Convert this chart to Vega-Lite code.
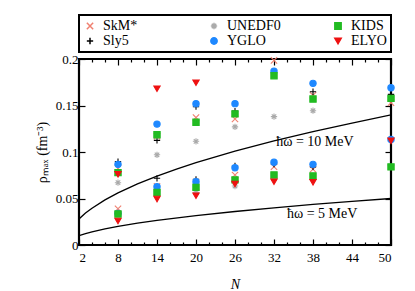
{
  "$schema": "https://vega.github.io/schema/vega-lite/v6.json",
  "width": 312,
  "height": 186,
  "autosize": {"type": "none"},
  "padding": {"left": 79, "top": 59, "right": 24, "bottom": 46},
  "background": "white",
  "config": {
    "font": "Liberation Serif",
    "view": {"stroke": "black", "strokeWidth": 2.2},
    "axis": {"labelFont": "Liberation Serif", "titleFont": "Liberation Serif", "labelFontSize": 13, "titleFontSize": 14, "titleFontWeight": "normal", "labelColor": "black", "titleColor": "black", "grid": false, "domain": false, "tickColor": "black", "tickWidth": 1.2},
    "legend": {"labelFont": "Liberation Serif", "labelFontSize": 14, "labelColor": "black", "titleFont": "Liberation Serif", "strokeWidth": 2}
  },
  "datasets": {
    "pts": [
      {"N": 8, "rho": 0.067, "model": "UNEDF0"},
      {"N": 14, "rho": 0.097, "model": "UNEDF0"},
      {"N": 14, "rho": 0.058, "model": "UNEDF0"},
      {"N": 20, "rho": 0.1115, "model": "UNEDF0"},
      {"N": 20, "rho": 0.0566, "model": "UNEDF0"},
      {"N": 26, "rho": 0.127, "model": "UNEDF0"},
      {"N": 26, "rho": 0.0634, "model": "UNEDF0"},
      {"N": 32, "rho": 0.138, "model": "UNEDF0"},
      {"N": 38, "rho": 0.1444, "model": "UNEDF0"},
      {"N": 8, "rho": 0.0824, "model": "SkM*"},
      {"N": 8, "rho": 0.039, "model": "SkM*"},
      {"N": 14, "rho": 0.117, "model": "SkM*"},
      {"N": 14, "rho": 0.063, "model": "SkM*"},
      {"N": 20, "rho": 0.137, "model": "SkM*"},
      {"N": 20, "rho": 0.063, "model": "SkM*"},
      {"N": 26, "rho": 0.1355, "model": "SkM*"},
      {"N": 26, "rho": 0.0753, "model": "SkM*"},
      {"N": 32, "rho": 0.1985, "model": "SkM*"},
      {"N": 32, "rho": 0.0842, "model": "SkM*"},
      {"N": 38, "rho": 0.161, "model": "SkM*"},
      {"N": 38, "rho": 0.0814, "model": "SkM*"},
      {"N": 50, "rho": 0.153, "model": "SkM*"},
      {"N": 8, "rho": 0.0896, "model": "Sly5"},
      {"N": 8, "rho": 0.034, "model": "Sly5"},
      {"N": 14, "rho": 0.1125, "model": "Sly5"},
      {"N": 14, "rho": 0.0717, "model": "Sly5"},
      {"N": 20, "rho": 0.1487, "model": "Sly5"},
      {"N": 20, "rho": 0.0706, "model": "Sly5"},
      {"N": 26, "rho": 0.144, "model": "Sly5"},
      {"N": 26, "rho": 0.085, "model": "Sly5"},
      {"N": 32, "rho": 0.185, "model": "Sly5"},
      {"N": 32, "rho": 0.087, "model": "Sly5"},
      {"N": 38, "rho": 0.1648, "model": "Sly5"},
      {"N": 38, "rho": 0.084, "model": "Sly5"},
      {"N": 50, "rho": 0.162, "model": "Sly5"},
      {"N": 50, "rho": 0.086, "model": "Sly5"},
      {"N": 8, "rho": 0.0867, "model": "YGLO"},
      {"N": 8, "rho": 0.034, "model": "YGLO"},
      {"N": 14, "rho": 0.13, "model": "YGLO"},
      {"N": 14, "rho": 0.0627, "model": "YGLO"},
      {"N": 20, "rho": 0.152, "model": "YGLO"},
      {"N": 20, "rho": 0.068, "model": "YGLO"},
      {"N": 26, "rho": 0.152, "model": "YGLO"},
      {"N": 26, "rho": 0.083, "model": "YGLO"},
      {"N": 32, "rho": 0.187, "model": "YGLO"},
      {"N": 32, "rho": 0.0889, "model": "YGLO"},
      {"N": 38, "rho": 0.1738, "model": "YGLO"},
      {"N": 38, "rho": 0.0867, "model": "YGLO"},
      {"N": 50, "rho": 0.169, "model": "YGLO"},
      {"N": 50, "rho": 0.1135, "model": "YGLO"},
      {"N": 8, "rho": 0.0778, "model": "KIDS"},
      {"N": 8, "rho": 0.0333, "model": "KIDS"},
      {"N": 14, "rho": 0.1186, "model": "KIDS"},
      {"N": 14, "rho": 0.0566, "model": "KIDS"},
      {"N": 20, "rho": 0.132, "model": "KIDS"},
      {"N": 20, "rho": 0.062, "model": "KIDS"},
      {"N": 26, "rho": 0.141, "model": "KIDS"},
      {"N": 26, "rho": 0.07, "model": "KIDS"},
      {"N": 32, "rho": 0.182, "model": "KIDS"},
      {"N": 32, "rho": 0.0753, "model": "KIDS"},
      {"N": 38, "rho": 0.157, "model": "KIDS"},
      {"N": 38, "rho": 0.0742, "model": "KIDS"},
      {"N": 50, "rho": 0.1577, "model": "KIDS"},
      {"N": 50, "rho": 0.084, "model": "KIDS"},
      {"N": 8, "rho": 0.076, "model": "ELYO"},
      {"N": 8, "rho": 0.0258, "model": "ELYO"},
      {"N": 14, "rho": 0.168, "model": "ELYO"},
      {"N": 14, "rho": 0.0494, "model": "ELYO"},
      {"N": 20, "rho": 0.1745, "model": "ELYO"},
      {"N": 20, "rho": 0.053, "model": "ELYO"},
      {"N": 26, "rho": 0.0656, "model": "ELYO"},
      {"N": 32, "rho": 0.068, "model": "ELYO"},
      {"N": 38, "rho": 0.0674, "model": "ELYO"},
      {"N": 50, "rho": 0.112, "model": "ELYO"}
    ],
    "curves": [
      {"N": 2, "rho": 0.028, "curve": "10"}, {"N": 3, "rho": 0.0343, "curve": "10"}, {"N": 4, "rho": 0.0396, "curve": "10"}, {"N": 6, "rho": 0.0485, "curve": "10"}, {"N": 8, "rho": 0.056, "curve": "10"}, {"N": 11, "rho": 0.0657, "curve": "10"}, {"N": 14, "rho": 0.0741, "curve": "10"}, {"N": 17, "rho": 0.0816, "curve": "10"}, {"N": 20, "rho": 0.0885, "curve": "10"}, {"N": 26, "rho": 0.101, "curve": "10"}, {"N": 32, "rho": 0.112, "curve": "10"}, {"N": 38, "rho": 0.122, "curve": "10"}, {"N": 44, "rho": 0.131, "curve": "10"}, {"N": 50, "rho": 0.14, "curve": "10"},
      {"N": 2, "rho": 0.01, "curve": "5"}, {"N": 3, "rho": 0.0122, "curve": "5"}, {"N": 4, "rho": 0.0141, "curve": "5"}, {"N": 6, "rho": 0.0173, "curve": "5"}, {"N": 8, "rho": 0.02, "curve": "5"}, {"N": 11, "rho": 0.0235, "curve": "5"}, {"N": 14, "rho": 0.0265, "curve": "5"}, {"N": 20, "rho": 0.0316, "curve": "5"}, {"N": 26, "rho": 0.036, "curve": "5"}, {"N": 32, "rho": 0.04, "curve": "5"}, {"N": 38, "rho": 0.0436, "curve": "5"}, {"N": 44, "rho": 0.0469, "curve": "5"}, {"N": 50, "rho": 0.05, "curve": "5"}
    ],
    "labels": [
      {"N": 38.3, "rho": 0.111, "label": "ħω = 10 MeV"},
      {"N": 39.4, "rho": 0.033, "label": "ħω = 5 MeV"}
    ]
  },
  "layer": [
    {
      "data": {"name": "curves"},
      "mark": {"type": "line", "color": "black", "strokeWidth": 1.3, "clip": true},
      "encoding": {
        "x": {"field": "N", "type": "quantitative", "scale": {"domain": [2, 50], "nice": false, "zero": false},
          "axis": {"orient": "top", "labels": false, "title": null, "values": [2,4,6,8,10,12,14,16,18,20,22,24,26,28,30,32,34,36,38,40,42,44,46,48,50], "tickSize": {"condition": {"test": "(datum.value - 2) % 6 === 0", "value": -6}, "value": -3}}},
        "y": {"field": "rho", "type": "quantitative", "scale": {"domain": [0, 0.2], "nice": false},
          "axis": {"orient": "right", "labels": false, "title": null, "values": [0, 0.05, 0.1, 0.15, 0.2], "tickSize": -6}},
        "detail": {"field": "curve"}
      }
    },
    {
      "data": {"name": "labels"},
      "mark": {"type": "text", "font": "Liberation Serif", "fontSize": 14, "color": "black"},
      "encoding": {
        "x": {"field": "N", "type": "quantitative", "axis": null},
        "y": {"field": "rho", "type": "quantitative", "axis": null},
        "text": {"field": "label"}
      }
    },
    {
      "data": {"name": "pts"},
      "mark": {"type": "point", "size": 40, "strokeWidth": 1.1, "opacity": 1},
      "encoding": {
        "x": {"field": "N", "type": "quantitative",
          "axis": {"orient": "bottom", "title": "N", "titleFontStyle": "italic", "titlePadding": 13, "labelPadding": 12, "labelFont": "Liberation Serif", "values": [2,4,6,8,10,12,14,16,18,20,22,24,26,28,30,32,34,36,38,40,42,44,46,48,50], "labelExpr": "(datum.value - 2) % 6 === 0 ? datum.label : ''", "tickSize": {"condition": {"test": "(datum.value - 2) % 6 === 0", "value": -6}, "value": -3}}},
        "y": {"field": "rho", "type": "quantitative",
          "axis": {"orient": "left", "title": "ρₘₐₓ (fm⁻³)", "titlePadding": 6, "labelPadding": 7, "labelFont": "Liberation Serif", "format": "~g", "values": [0, 0.05, 0.1, 0.15, 0.2], "tickSize": -6}},
        "shape": {"field": "model", "type": "nominal", "title": null,
          "scale": {"domain": ["SkM*", "UNEDF0", "KIDS", "Sly5", "YGLO", "ELYO"],
            "range": ["M-1,-1L1,1M-1,1L1,-1", "M-1,0L1,0M0,-1L0,1M-0.7,-0.7L0.7,0.7M-0.7,0.7L0.7,-0.7", "square", "M-1,0L1,0M0,-1L0,1", "circle", "triangle-down"]}},
        "stroke": {"field": "model", "type": "nominal", "title": null,
          "scale": {"domain": ["SkM*", "UNEDF0", "KIDS", "Sly5", "YGLO", "ELYO"],
            "range": ["#f08070", "#aaaaaa", "#22bb22", "#000000", "#1e88ff", "#ee1111"]}},
        "fill": {"field": "model", "type": "nominal", "title": null,
          "scale": {"domain": ["SkM*", "UNEDF0", "KIDS", "Sly5", "YGLO", "ELYO"],
            "range": ["transparent", "transparent", "#22bb22", "transparent", "#1e88ff", "#ee1111"]},
          "legend": {"orient": "none", "legendX": 0, "legendY": -44, "columns": 3, "direction": "horizontal", "gridAlign": "all", "columnPadding": 50, "rowPadding": 1, "padding": 4, "strokeColor": "black", "labelAlign": "left", "labelOffset": 6, "symbolSize": 40}}
      }
    }
  ],
  "resolve": {"axis": {"x": "independent", "y": "independent"}}
}
